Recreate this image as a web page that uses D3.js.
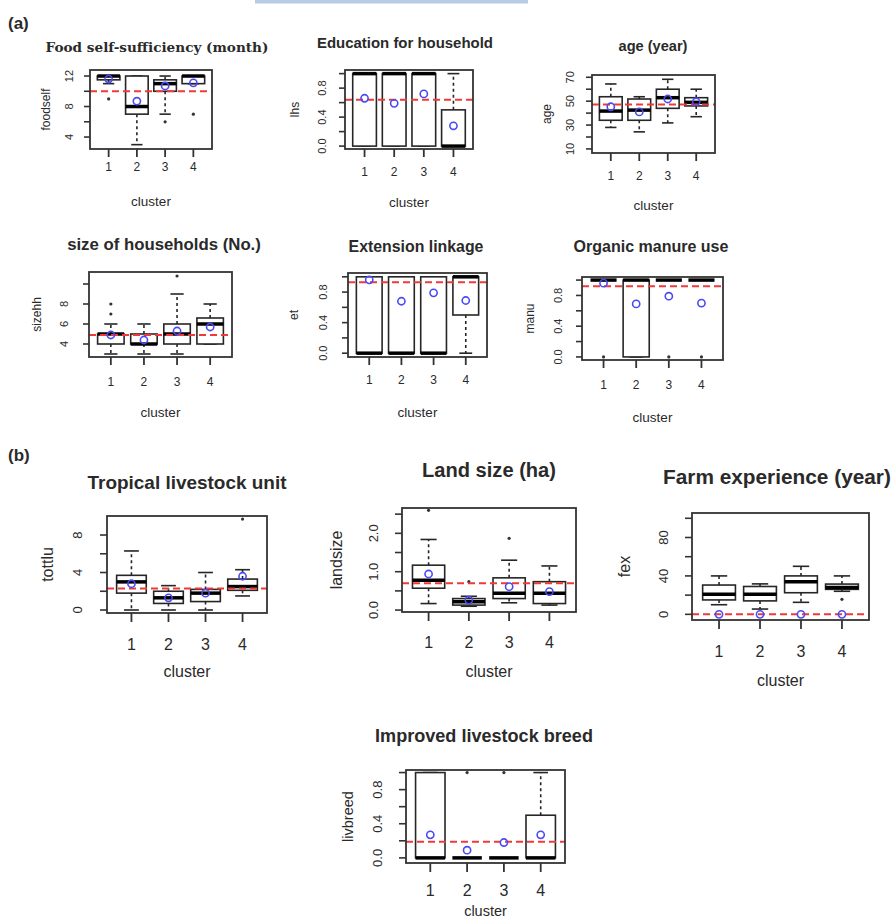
<!DOCTYPE html>
<html><head><meta charset="utf-8">
<script src="https://cdn.jsdelivr.net/npm/d3@7/dist/d3.min.js"></script>
<style>
body{margin:0;background:#fff;}
text{font-family:"Liberation Sans",Arial,Helvetica,sans-serif;fill:#2a2a2a;}
</style></head><body>
<svg id="chart" width="894" height="921" xmlns="http://www.w3.org/2000/svg"></svg>
<script>
const clusters = [1, 2, 3, 4];
const clusterLabels = ["1", "2", "3", "4"];

// stats rows: [lower whisker, Q1, median, Q3, upper whisker]
const foodselfStats = [[11, 11.5, 12, 12, 12], [3, 7, 8, 12, 12], [7, 10, 11, 11.5, 12], [11, 11, 12, 12, 12]];
const foodselfOutliers = [[9], [], [6], [7]];
const foodselfMeans = [11.6, 8.7, 10.7, 11.1];
const foodselfMean = 10;
const foodselfTicks = [4, 6, 8, 10, 12];
const foodselfTickLabels = ["4", "", "8", "", "12"];

const lhsStats = [[0, 0, 1, 1, 1], [0, 0, 1, 1, 1], [0, 0, 1, 1, 1], [0, 0, 0, 0.5, 1]];
const lhsOutliers = [[], [], [], []];
const lhsMeans = [0.66, 0.59, 0.72, 0.28];
const lhsMean = 0.64;

const ageStats = [[28, 34, 41.7, 53.7, 64.4], [24.3, 34, 42.5, 51.8, 53.7], [31.8, 44, 52.9, 60, 68.3], [37, 46, 49, 52.9, 60]];
const ageOutliers = [[], [], [], []];
const ageMeans = [45.3, 41, 51.8, 49.5];
const ageMean = 47.3;
const ageTicks = [10, 20, 30, 40, 50, 60, 70];
const ageTickLabels = ["10", "", "30", "", "50", "", "70"];

const sizehhStats = [[3, 4, 5, 5, 6], [3, 4, 4, 5, 6], [3, 4, 5, 6, 9], [4, 4, 6, 6.6, 8]];
const sizehhOutliers = [[7, 8], [], [10.8], []];
const sizehhMeans = [4.9, 4.4, 5.3, 5.7];
const sizehhMean = 4.9;
const sizehhTicks = [4, 6, 8, 10];
const sizehhTickLabels = ["4", "6", "8", ""];

const etStats = [[0, 0, 0, 1, 1], [0, 0, 0, 1, 1], [0, 0, 0, 1, 1], [0, 0.5, 1, 1, 1]];
const etOutliers = [[], [], [], []];
const etMeans = [0.96, 0.68, 0.79, 0.69];
const etMean = 0.93;

const manuStats = [[1, 1, 1, 1, 1], [0, 0, 1, 1, 1], [1, 1, 1, 1, 1], [1, 1, 1, 1, 1]];
const manuOutliers = [[0], [], [0], [0]];
const manuMeans = [0.96, 0.69, 0.79, 0.70];
const manuMean = 0.92;

const proportionTicks = [0, 0.2, 0.4, 0.6, 0.8, 1.0];
const proportionTickLabels = ["0.0", "", "0.4", "", "0.8", ""];

const tottluStats = [[0, 1.8, 3.0, 3.7, 6.3], [0, 0.7, 1.3, 2.0, 2.6], [0, 0.9, 1.8, 2.2, 4.0], [1.5, 2.1, 2.5, 3.3, 4.3]];
const tottluOutliers = [[], [], [], [9.7]];
const tottluMeans = [2.8, 1.3, 1.8, 3.6];
const tottluMean = 2.3;
const tottluTicks = [0, 2, 4, 6, 8];
const tottluTickLabels = ["0", "", "4", "", "8"];

const landsizeStats = [[0.17, 0.57, 0.78, 1.17, 1.84], [0.1, 0.13, 0.22, 0.3, 0.36], [0.19, 0.3, 0.44, 0.84, 1.3], [0.13, 0.17, 0.44, 0.74, 1.15]];
const landsizeOutliers = [[2.6], [0.74], [1.87], []];
const landsizeMeans = [0.94, 0.26, 0.61, 0.48];
const landsizeMean = 0.7;
const landsizeTicks = [0, 0.5, 1.0, 1.5, 2.0, 2.5];
const landsizeTickLabels = ["0.0", "", "1.0", "", "2.0", ""];

const fexStats = [[10, 15, 21, 30.5, 40], [5.5, 14, 21, 29, 31.7], [12.5, 22.5, 34, 40, 50], [24, 26, 28, 31.5, 40]];
const fexOutliers = [[], [], [], [15.6]];
const fexMeans = [0, 0, 0, 0];
const fexMean = 0;
const fexTicks = [0, 20, 40, 60, 80, 100];
const fexTickLabels = ["0", "", "40", "", "80", ""];

const livbreedStats = [[0, 0, 0, 1, 1], [0, 0, 0, 0, 0], [0, 0, 0, 0, 0], [0, 0, 0, 0.5, 1]];
const livbreedOutliers = [[], [1], [1], []];
const livbreedMeans = [0.27, 0.09, 0.18, 0.27];
const livbreedMean = 0.19;

const A = {tick: 11, xtick: 12, ylab: 12, clus: 13.5, tickLen: 6, xTickLen: 8};
const B = {tick: 13, xtick: 16, ylab: 16, clus: 16, tickLen: 7, xTickLen: 9};

const panels = [
  {title: "Food self-sufficiency (month)", serif: true, tx: 157, ty: 52, tw: 223, ylab: "foodself", ylx: 50,
   box: [90, 70, 212, 149], ydom: [2.43, 12.79], stats: foodselfStats, out: foodselfOutliers, means: foodselfMeans, mean: foodselfMean,
   ticks: foodselfTicks, tl: foodselfTickLabels, tlx: 73, xly: 167, cly: 201, s: A},
  {title: "Education for household", tx: 405, ty: 48, tw: 176, ylab: "lhs", ylx: 299,
   box: [345, 70, 473, 149], ydom: [-0.04, 1.05], stats: lhsStats, out: lhsOutliers, means: lhsMeans, mean: lhsMean,
   ticks: proportionTicks, tl: proportionTickLabels, tlx: 326, xly: 172, cly: 202, s: A},
  {title: "age (year)", tx: 653, ty: 51, tw: 69, ylab: "age", ylx: 551,
   box: [592, 75, 715, 153], ydom: [6.6, 71.9], stats: ageStats, out: ageOutliers, means: ageMeans, mean: ageMean,
   ticks: ageTicks, tl: ageTickLabels, tlx: 574, xly: 176, cly: 205, s: A},
  {title: "size of households (No.)", tx: 164, ty: 250, tw: 194, ylab: "sizehh", ylx: 41,
   box: [89, 272, 232, 357], ydom: [2.7, 11.2], stats: sizehhStats, out: sizehhOutliers, means: sizehhMeans, mean: sizehhMean,
   ticks: sizehhTicks, tl: sizehhTickLabels, tlx: 68, xly: 382, cly: 412, s: A},
  {title: "Extension linkage", tx: 416, ty: 252, tw: 135, ylab: "et", ylx: 298,
   box: [348, 273, 487, 357], ydom: [-0.05, 1.05], stats: etStats, out: etOutliers, means: etMeans, mean: etMean,
   ticks: proportionTicks, tl: proportionTickLabels, tlx: 327, xly: 380, cly: 412, s: A},
  {title: "Organic manure use", tx: 651, ty: 252, tw: 155, ylab: "manu", ylx: 534,
   box: [582, 277, 723, 360], ydom: [-0.04, 1.04], stats: manuStats, out: manuOutliers, means: manuMeans, mean: manuMean,
   ticks: proportionTicks, tl: proportionTickLabels, tlx: 562, xly: 385, cly: 417, s: A},
  {title: "Tropical livestock unit", tx: 187, ty: 489, tw: 199, ylab: "tottlu", ylx: 53,
   box: [107, 516, 267, 613], ydom: [-0.32, 10.03], stats: tottluStats, out: tottluOutliers, means: tottluMeans, mean: tottluMean,
   ticks: tottluTicks, tl: tottluTickLabels, tlx: 82, xly: 644, cly: 671, s: B},
  {title: "Land size (ha)", tx: 489, ty: 477, tw: 134, ylab: "landsize", ylx: 342,
   box: [402, 508, 576, 612], ydom: [-0.05, 2.66], stats: landsizeStats, out: landsizeOutliers, means: landsizeMeans, mean: landsizeMean,
   ticks: landsizeTicks, tl: landsizeTickLabels, tlx: 378, xly: 642, cly: 671, s: B},
  {title: "Farm experience (year)", start: true, tx: 663, ty: 484, tw: 228, ylab: "fex", ylx: 630,
   box: [692, 513, 869, 620], ydom: [-5.9, 105.5], stats: fexStats, out: fexOutliers, means: fexMeans, mean: fexMean,
   ticks: fexTicks, tl: fexTickLabels, tlx: 668, xly: 651, cly: 680, s: B},
  {title: "Improved livestock breed", tx: 484, ty: 742, tw: 218, ylab: "livbreed", ylx: 353, ylabSize: 14.5, clusSize: 14.5,
   box: [406, 770, 565, 863], ydom: [-0.06, 1.03], stats: livbreedStats, out: livbreedOutliers, means: livbreedMeans, mean: livbreedMean,
   ticks: proportionTicks, tl: proportionTickLabels, tlx: 382, xly: 890, cly: 911, s: B}
];

const svg = d3.select("#chart");
svg.append("rect").attr("x", 0).attr("y", 0).attr("width", 894).attr("height", 921).attr("fill", "#fff");
svg.append("rect").attr("x", 255).attr("y", 0).attr("width", 273).attr("height", 3.5).attr("fill", "#b8cce6");

svg.append("text").attr("x", 8).attr("y", 29).attr("font-size", 17).attr("font-weight", "bold").text("(a)");
svg.append("text").attr("x", 8).attr("y", 461).attr("font-size", 17).attr("font-weight", "bold").text("(b)");

const ink = "#262626";

function drawPanel(p) {
  const [x0, y0, x1, y1] = p.box;
  const x = d3.scaleLinear().domain([0.34, 4.66]).range([x0, x1]);
  const y = d3.scaleLinear().domain(p.ydom).range([y1, y0]);
  const g = svg.append("g");
  const unit = x(1) - x(0);
  const bw = 0.8 * unit;

  p.stats.forEach((st, i) => {
    const cx = x(clusters[i]);
    const [lo, q1, med, q3, hi] = st;
    g.append("line").attr("x1", cx).attr("x2", cx).attr("y1", y(q3)).attr("y2", y(hi))
      .attr("stroke", ink).attr("stroke-width", 1.6).attr("stroke-dasharray", "3,3");
    g.append("line").attr("x1", cx).attr("x2", cx).attr("y1", y(q1)).attr("y2", y(lo))
      .attr("stroke", ink).attr("stroke-width", 1.6).attr("stroke-dasharray", "3,3");
    [lo, hi].forEach(v => {
      g.append("line").attr("x1", cx - bw / 4).attr("x2", cx + bw / 4).attr("y1", y(v)).attr("y2", y(v))
        .attr("stroke", ink).attr("stroke-width", 1.6);
    });
    g.append("rect").attr("x", cx - bw / 2).attr("width", bw)
      .attr("y", y(q3)).attr("height", Math.max(0, y(q1) - y(q3)))
      .attr("fill", "#fff").attr("stroke", ink).attr("stroke-width", 1.6);
    g.append("line").attr("x1", cx - bw / 2).attr("x2", cx + bw / 2).attr("y1", y(med)).attr("y2", y(med))
      .attr("stroke", "#000").attr("stroke-width", 3.5);
    p.out[i].forEach(v => {
      g.append("circle").attr("cx", cx).attr("cy", y(v)).attr("r", 1.6).attr("fill", "#333");
    });
  });

  g.append("line").attr("x1", x0).attr("x2", x1).attr("y1", y(p.mean)).attr("y2", y(p.mean))
    .attr("stroke", "#f03a3a").attr("stroke-width", 2).attr("stroke-dasharray", "7,4");

  p.means.forEach((m, i) => {
    g.append("circle").attr("cx", x(clusters[i])).attr("cy", y(m)).attr("r", 3.6)
      .attr("fill", "none").attr("stroke", "#4a4af5").attr("stroke-width", 1.6);
  });

  g.append("rect").attr("x", x0).attr("y", y0).attr("width", x1 - x0).attr("height", y1 - y0)
    .attr("fill", "none").attr("stroke", "#333").attr("stroke-width", 1.8);

  const s = p.s;
  p.ticks.forEach((t, i) => {
    g.append("line").attr("x1", x0 - s.tickLen).attr("x2", x0).attr("y1", y(t)).attr("y2", y(t))
      .attr("stroke", "#333").attr("stroke-width", 1.6);
    if (p.tl[i]) {
      g.append("text").attr("transform", `translate(${p.tlx},${y(t)}) rotate(-90)`)
        .attr("text-anchor", "middle").attr("font-size", s.tick).text(p.tl[i]);
    }
  });
  clusters.forEach((c, i) => {
    g.append("line").attr("x1", x(c)).attr("x2", x(c)).attr("y1", y1).attr("y2", y1 + s.xTickLen)
      .attr("stroke", "#333").attr("stroke-width", 1.8);
    g.append("text").attr("x", x(c)).attr("y", p.xly).attr("dy", "0.36em")
      .attr("text-anchor", "middle").attr("font-size", s.xtick).text(clusterLabels[i]);
  });
  g.append("text").attr("x", (x0 + x1) / 2).attr("y", p.cly).attr("dy", "0.36em")
    .attr("text-anchor", "middle").attr("font-size", p.clusSize || s.clus).text("cluster");
  g.append("text").attr("transform", `translate(${p.ylx},${(y0 + y1) / 2}) rotate(-90)`)
    .attr("text-anchor", "middle").attr("font-size", p.ylabSize || s.ylab).text(p.ylab);

  const t = g.append("text").attr("x", p.tx).attr("y", p.ty)
    .attr("text-anchor", p.start ? "start" : "middle").attr("font-weight", "bold")
    .attr("font-size", 14).text(p.title);
  if (p.serif) t.style("font-family", '"DejaVu Serif","Liberation Serif",serif');
  const w = t.node().getComputedTextLength();
  if (w > 0) t.attr("font-size", 14 * p.tw / w);
}

panels.forEach(drawPanel);
</script>
</body></html>
